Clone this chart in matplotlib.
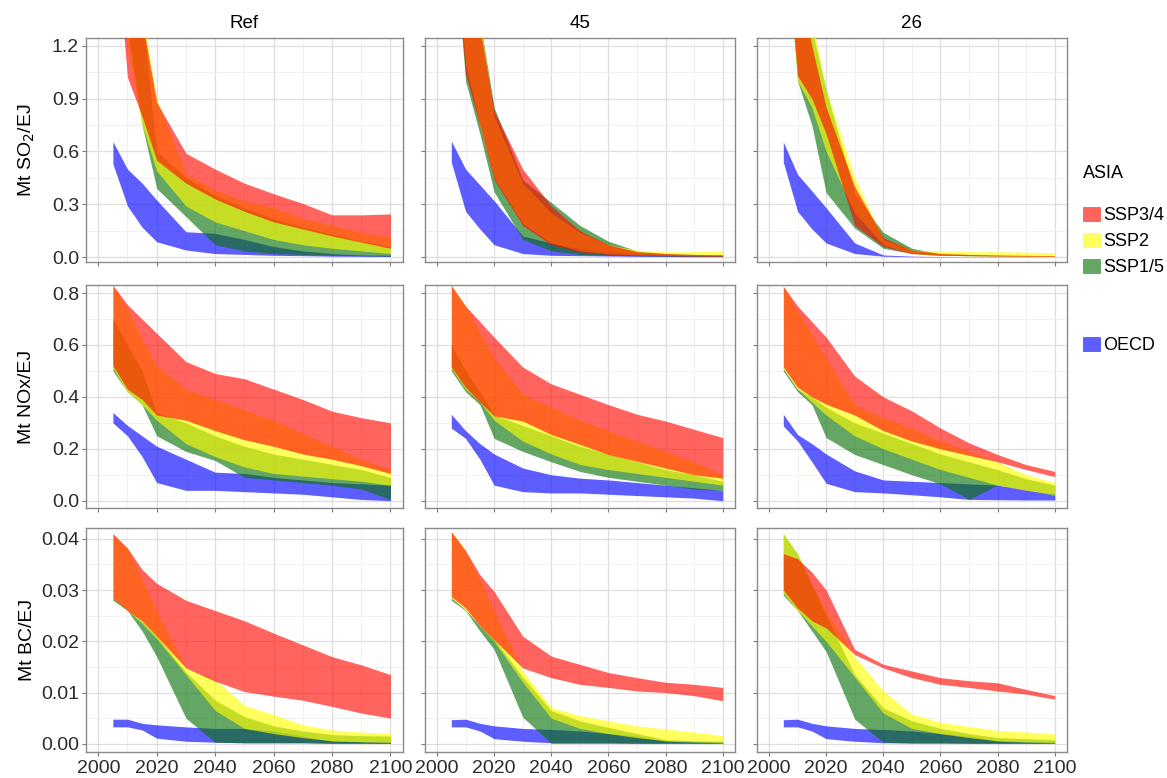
import matplotlib
matplotlib.use("Agg")
import matplotlib.pyplot as plt
from matplotlib.patches import Patch
from matplotlib.ticker import MultipleLocator, FormatStrFormatter

plt.rcParams["font.family"] = ["Liberation Sans", "DejaVu Sans"]

# Emission factor ranges (lower / upper bound of each ribbon)
YEARS = [2005, 2010, 2015, 2020, 2030, 2040, 2050, 2060, 2070, 2080, 2090, 2100]

# --- SO2, Ref ---
so2_ref_ssp34_lo = [2.0, 1.02, 0.80, 0.55, 0.42, 0.33, 0.26, 0.20, 0.16, 0.12, 0.085, 0.05]
so2_ref_ssp34_hi = [3.0, 2.0, 1.35, 0.88, 0.59, 0.50, 0.42, 0.36, 0.305, 0.24, 0.24, 0.245]
so2_ref_ssp2_lo = [2.0, 1.2, 0.75, 0.49, 0.29, 0.20, 0.15, 0.10, 0.07, 0.05, 0.035, 0.02]
so2_ref_ssp2_hi = [3.0, 2.0, 1.4, 0.90, 0.47, 0.38, 0.32, 0.28, 0.22, 0.18, 0.14, 0.115]
so2_ref_ssp15_lo = [2.2, 1.3, 0.75, 0.39, 0.23, 0.07, 0.035, 0.02, 0.015, 0.01, 0.008, 0.005]
so2_ref_ssp15_hi = [3.0, 2.0, 1.4, 0.60, 0.45, 0.35, 0.28, 0.22, 0.17, 0.13, 0.09, 0.06]
so2_ref_oecd_lo = [0.53, 0.29, 0.17, 0.087, 0.04, 0.02, 0.015, 0.01, 0.008, 0.005, 0.004, 0.003]
so2_ref_oecd_hi = [0.656, 0.50, 0.42, 0.324, 0.144, 0.135, 0.10, 0.06, 0.035, 0.02, 0.012, 0.01]

# --- NOx, Ref ---
nox_ref_ssp34_lo = [0.52, 0.43, 0.39, 0.33, 0.31, 0.27, 0.235, 0.21, 0.18, 0.16, 0.135, 0.105]
nox_ref_ssp34_hi = [0.83, 0.755, 0.70, 0.645, 0.536, 0.49, 0.47, 0.43, 0.39, 0.345, 0.32, 0.30]
nox_ref_ssp2_lo = [0.51, 0.42, 0.37, 0.31, 0.22, 0.17, 0.13, 0.105, 0.095, 0.085, 0.075, 0.06]
nox_ref_ssp2_hi = [0.83, 0.74, 0.62, 0.52, 0.43, 0.39, 0.35, 0.31, 0.26, 0.21, 0.16, 0.12]
nox_ref_ssp15_lo = [0.50, 0.42, 0.37, 0.25, 0.19, 0.155, 0.09, 0.08, 0.07, 0.06, 0.045, 0.005]
nox_ref_ssp15_hi = [0.70, 0.60, 0.50, 0.34, 0.30, 0.25, 0.21, 0.18, 0.16, 0.14, 0.12, 0.09]
nox_ref_oecd_lo = [0.30, 0.25, 0.17, 0.07, 0.04, 0.04, 0.035, 0.03, 0.025, 0.015, 0.005, 0.0]
nox_ref_oecd_hi = [0.34, 0.29, 0.25, 0.21, 0.16, 0.11, 0.105, 0.09, 0.08, 0.07, 0.065, 0.06]

# --- BC, Ref ---
bc_ref_ssp34_lo = [0.0285, 0.026, 0.024, 0.021, 0.0148, 0.0122, 0.0102, 0.0093, 0.0085, 0.0073, 0.006, 0.005]
bc_ref_ssp34_hi = [0.041, 0.0382, 0.034, 0.0313, 0.028, 0.026, 0.024, 0.0216, 0.0193, 0.017, 0.0154, 0.0135]
bc_ref_ssp2_lo = [0.0285, 0.026, 0.0235, 0.0205, 0.0135, 0.0065, 0.003, 0.002, 0.0012, 0.0006, 0.0004, 0.0003]
bc_ref_ssp2_hi = [0.041, 0.038, 0.032, 0.026, 0.0148, 0.0125, 0.0075, 0.0057, 0.0037, 0.0027, 0.0023, 0.002]
bc_ref_ssp15_lo = [0.028, 0.026, 0.022, 0.017, 0.005, 0.0003, 0.0002, 0.0002, 0.0002, 0.0001, 0.0001, 0.0001]
bc_ref_ssp15_hi = [0.0285, 0.0262, 0.024, 0.021, 0.014, 0.0085, 0.0053, 0.0035, 0.0025, 0.0018, 0.0016, 0.0015]
bc_ref_oecd_lo = [0.0033, 0.0033, 0.0027, 0.0011, 0.0005, 0.0003, 0.0002, 0.0002, 0.0002, 0.0001, 0.0001, 0.0001]
bc_ref_oecd_hi = [0.0048, 0.0048, 0.004, 0.0037, 0.0033, 0.003, 0.003, 0.0025, 0.0015, 0.0005, 0.0004, 0.0003]

# --- SO2, 45 ---
so2_45_ssp34_lo = [2.0, 1.04, 0.75, 0.44, 0.18, 0.07, 0.03, 0.015, 0.01, 0.008, 0.006, 0.005]
so2_45_ssp34_hi = [3.0, 2.0, 1.3, 0.83, 0.50, 0.29, 0.15, 0.07, 0.03, 0.02, 0.015, 0.012]
so2_45_ssp2_lo = [2.0, 1.1, 0.75, 0.45, 0.19, 0.08, 0.035, 0.018, 0.012, 0.01, 0.01, 0.012]
so2_45_ssp2_hi = [3.0, 2.0, 1.35, 0.80, 0.42, 0.25, 0.14, 0.07, 0.04, 0.03, 0.03, 0.035]
so2_45_ssp15_lo = [2.0, 1.0, 0.70, 0.37, 0.10, 0.035, 0.015, 0.01, 0.008, 0.006, 0.005, 0.004]
so2_45_ssp15_hi = [3.0, 2.0, 1.35, 0.85, 0.44, 0.31, 0.18, 0.09, 0.035, 0.02, 0.015, 0.012]
so2_45_oecd_lo = [0.54, 0.26, 0.16, 0.07, 0.02, 0.01, 0.008, 0.006, 0.004, 0.003, 0.002, 0.002]
so2_45_oecd_hi = [0.66, 0.50, 0.41, 0.32, 0.12, 0.08, 0.05, 0.03, 0.02, 0.012, 0.008, 0.006]

# --- NOx, 45 ---
nox_45_ssp34_lo = [0.515, 0.437, 0.38, 0.327, 0.307, 0.255, 0.217, 0.178, 0.152, 0.126, 0.10, 0.087]
nox_45_ssp34_hi = [0.83, 0.75, 0.69, 0.63, 0.515, 0.45, 0.41, 0.37, 0.333, 0.307, 0.275, 0.243]
nox_45_ssp2_lo = [0.51, 0.43, 0.38, 0.31, 0.23, 0.18, 0.14, 0.12, 0.105, 0.09, 0.075, 0.06]
nox_45_ssp2_hi = [0.83, 0.75, 0.65, 0.55, 0.41, 0.36, 0.31, 0.27, 0.23, 0.19, 0.15, 0.10]
nox_45_ssp15_lo = [0.50, 0.42, 0.37, 0.24, 0.19, 0.15, 0.113, 0.09, 0.075, 0.06, 0.045, 0.04]
nox_45_ssp15_hi = [0.60, 0.50, 0.42, 0.33, 0.29, 0.25, 0.21, 0.18, 0.15, 0.12, 0.10, 0.075]
nox_45_oecd_lo = [0.28, 0.24, 0.16, 0.06, 0.035, 0.03, 0.03, 0.025, 0.02, 0.015, 0.01, 0.0]
nox_45_oecd_hi = [0.333, 0.27, 0.22, 0.18, 0.126, 0.10, 0.087, 0.08, 0.07, 0.06, 0.05, 0.04]

# --- BC, 45 ---
bc_45_ssp34_lo = [0.0287, 0.0265, 0.023, 0.0203, 0.0148, 0.0129, 0.0116, 0.011, 0.0103, 0.010, 0.0094, 0.0084]
bc_45_ssp34_hi = [0.0414, 0.0377, 0.033, 0.0297, 0.021, 0.0171, 0.0155, 0.0139, 0.0129, 0.012, 0.0116, 0.011]
bc_45_ssp2_lo = [0.0285, 0.0262, 0.023, 0.020, 0.012, 0.005, 0.003, 0.002, 0.0012, 0.0006, 0.0004, 0.0003]
bc_45_ssp2_hi = [0.0414, 0.0377, 0.032, 0.026, 0.0142, 0.0071, 0.0055, 0.0045, 0.0035, 0.0029, 0.0023, 0.0016]
bc_45_ssp15_lo = [0.028, 0.026, 0.022, 0.0184, 0.0052, 0.0001, 0.0001, 0.0001, 0.0001, 0.0001, 0.0001, 0.0001]
bc_45_ssp15_hi = [0.0285, 0.0262, 0.023, 0.0205, 0.013, 0.0065, 0.0045, 0.0032, 0.002, 0.0008, 0.0006, 0.0005]
bc_45_oecd_lo = [0.0033, 0.0033, 0.0025, 0.001, 0.0005, 0.0002, 0.0002, 0.0002, 0.0001, 0.0001, 0.0001, 0.0001]
bc_45_oecd_hi = [0.0047, 0.0048, 0.004, 0.0035, 0.003, 0.0028, 0.0025, 0.002, 0.0015, 0.0005, 0.0003, 0.0002]

# --- SO2, 26 ---
so2_26_ssp34_lo = [2.0, 1.03, 0.9, 0.70, 0.18, 0.06, 0.02, 0.01, 0.008, 0.006, 0.005, 0.004]
so2_26_ssp34_hi = [3.0, 1.6, 1.2, 0.85, 0.40, 0.11, 0.04, 0.02, 0.015, 0.012, 0.01, 0.008]
so2_26_ssp2_lo = [2.0, 1.0, 0.85, 0.60, 0.25, 0.07, 0.02, 0.01, 0.008, 0.006, 0.005, 0.004]
so2_26_ssp2_hi = [3.0, 2.0, 1.35, 0.95, 0.45, 0.10, 0.04, 0.035, 0.03, 0.03, 0.028, 0.025]
so2_26_ssp15_lo = [2.0, 1.0, 0.75, 0.366, 0.165, 0.05, 0.02, 0.01, 0.008, 0.006, 0.005, 0.004]
so2_26_ssp15_hi = [3.0, 1.8, 1.3, 0.95, 0.36, 0.14, 0.05, 0.02, 0.015, 0.01, 0.008, 0.006]
so2_26_oecd_lo = [0.54, 0.26, 0.16, 0.08, 0.02, 0.005, 0.002, 0.001, 0.001, 0.001, 0.001, 0.001]
so2_26_oecd_hi = [0.654, 0.47, 0.376, 0.28, 0.08, 0.012, 0.005, 0.003, 0.002, 0.002, 0.002, 0.001]

# --- NOx, 26 ---
nox_26_ssp34_lo = [0.515, 0.437, 0.40, 0.372, 0.33, 0.27, 0.23, 0.20, 0.175, 0.15, 0.12, 0.093]
nox_26_ssp34_hi = [0.826, 0.75, 0.69, 0.63, 0.48, 0.40, 0.346, 0.28, 0.223, 0.178, 0.139, 0.113]
nox_26_ssp2_lo = [0.51, 0.43, 0.38, 0.33, 0.25, 0.20, 0.16, 0.12, 0.09, 0.06, 0.04, 0.025]
nox_26_ssp2_hi = [0.826, 0.73, 0.64, 0.55, 0.37, 0.32, 0.28, 0.23, 0.19, 0.15, 0.10, 0.07]
nox_26_ssp15_lo = [0.50, 0.42, 0.37, 0.243, 0.178, 0.139, 0.10, 0.065, 0.005, 0.06, 0.045, 0.02]
nox_26_ssp15_hi = [0.51, 0.43, 0.40, 0.36, 0.30, 0.26, 0.22, 0.18, 0.15, 0.12, 0.085, 0.06]
nox_26_oecd_lo = [0.288, 0.23, 0.15, 0.067, 0.035, 0.03, 0.023, 0.015, 0.005, 0.004, 0.003, 0.003]
nox_26_oecd_hi = [0.333, 0.255, 0.22, 0.18, 0.115, 0.08, 0.075, 0.07, 0.065, 0.06, 0.045, 0.02]

# --- BC, 26 ---
bc_26_ssp34_lo = [0.030, 0.0265, 0.024, 0.0226, 0.0174, 0.0148, 0.0129, 0.0116, 0.011, 0.0103, 0.0097, 0.0087]
bc_26_ssp34_hi = [0.0371, 0.0361, 0.0335, 0.030, 0.0184, 0.0155, 0.0142, 0.0129, 0.0123, 0.0119, 0.0106, 0.0094]
bc_26_ssp2_lo = [0.0294, 0.026, 0.023, 0.020, 0.013, 0.006, 0.003, 0.002, 0.0012, 0.0006, 0.0004, 0.0003]
bc_26_ssp2_hi = [0.041, 0.037, 0.031, 0.026, 0.017, 0.0103, 0.0058, 0.0042, 0.0034, 0.0026, 0.0023, 0.0019]
bc_26_ssp15_lo = [0.029, 0.026, 0.022, 0.018, 0.0048, 0.0003, 0.0001, 0.0001, 0.0001, 0.0001, 0.0001, 0.0001]
bc_26_ssp15_hi = [0.041, 0.037, 0.031, 0.025, 0.0135, 0.007, 0.0045, 0.003, 0.002, 0.0012, 0.001, 0.0008]
bc_26_oecd_lo = [0.0033, 0.0033, 0.0025, 0.001, 0.0005, 0.0002, 0.0002, 0.0002, 0.0001, 0.0001, 0.0001, 0.0001]
bc_26_oecd_hi = [0.0047, 0.0048, 0.004, 0.0035, 0.003, 0.0028, 0.0025, 0.002, 0.0015, 0.0005, 0.0003, 0.0002]

SCENARIOS = ["Ref", "45", "26"]
ROW_LABELS = ["Mt SO$_2$/EJ", "Mt NOx/EJ", "Mt BC/EJ"]
ASIA_LABELS = ["SSP3/4", "SSP2", "SSP1/5"]

# Style
COLORS = {"oecd": "#0000ff", "ssp15": "#0a730a", "ssp2": "#ffff00", "ssp34": "#ff0a00"}
ALPHA = 0.63
DRAW_ORDER = ["oecd", "ssp15", "ssp2", "ssp34"]

W, H = 1167, 778
COL_LEFT = [86, 425, 757]
COL_WIDTH = [317, 310, 310]
ROW_TOP = [38, 285, 528]
ROW_BOTTOM = [262, 508, 752]
XLIM = (1995.8, 2104.3)
YLIMS = [(-0.028, 1.245), (-0.028, 0.831), (-0.0016, 0.0421)]
Y_MAJOR = [0.3, 0.2, 0.01]
Y_FMT = ["%.1f", "%.1f", "%.2f"]

# collect the ribbons per panel (row = pollutant, col = scenario)
panels = {}
for r, pol in enumerate(["so2", "nox", "bc"]):
    for c, scen in enumerate(["ref", "45", "26"]):
        panels[(r, c)] = {
            key: (globals()[f"{pol}_{scen}_{key}_lo"], globals()[f"{pol}_{scen}_{key}_hi"])
            for key in DRAW_ORDER
        }

fig = plt.figure(figsize=(W / 100, H / 100), dpi=100)

for r in range(3):
    for c in range(3):
        left = COL_LEFT[c] / W
        bottom = 1 - ROW_BOTTOM[r] / H
        ax = fig.add_axes([left, bottom, COL_WIDTH[c] / W, (ROW_BOTTOM[r] - ROW_TOP[r]) / H])
        ax.set_facecolor("white")

        for key in DRAW_ORDER:
            lo, hi = panels[(r, c)][key]
            ax.fill_between(YEARS, lo, hi, color=COLORS[key], alpha=ALPHA, linewidth=0, zorder=3)

        ax.set_xlim(*XLIM)
        ax.set_ylim(*YLIMS[r])
        ax.xaxis.set_major_locator(MultipleLocator(20))
        ax.xaxis.set_minor_locator(MultipleLocator(10))
        ax.yaxis.set_major_locator(MultipleLocator(Y_MAJOR[r]))
        ax.yaxis.set_minor_locator(MultipleLocator(Y_MAJOR[r] / 2))
        ax.yaxis.set_major_formatter(FormatStrFormatter(Y_FMT[r]))

        ax.grid(which="major", color="#dedede", linewidth=0.9, zorder=0)
        ax.grid(which="minor", color="#efefef", linewidth=0.6, zorder=0)
        ax.set_axisbelow(True)
        for sp in ax.spines.values():
            sp.set_color("#8a8a8a")
            sp.set_linewidth(1.0)

        ax.tick_params(which="major", length=3, width=0.8, color="#7a7a7a",
                       labelsize=14, labelcolor="#2b2b2b")
        ax.tick_params(axis="x", pad=3)
        ax.tick_params(axis="y", pad=2)
        ax.tick_params(which="minor", length=0)
        if c > 0:
            ax.tick_params(labelleft=False)
        if r < 2:
            ax.tick_params(labelbottom=False)

        if r == 0:
            cx = (COL_LEFT[c] + COL_WIDTH[c] / 2) / W
            fig.text(cx, 1 - 24 / H, SCENARIOS[c], ha="center", va="center", fontsize=13.5)

    cy = 1 - (ROW_TOP[r] + ROW_BOTTOM[r]) / 2 / H
    fig.text(27 / W, cy, ROW_LABELS[r], rotation=90, ha="center", va="center", fontsize=14)

# legends: ASIA title set on its own so the gap to the first key matches
fig.text(1083 / W, 1 - 174 / H, "ASIA", ha="left", va="center", fontsize=13)
asia_handles = [Patch(facecolor=COLORS[k], alpha=ALPHA, edgecolor=COLORS[k], linewidth=0.5)
                for k in ["ssp34", "ssp2", "ssp15"]]
leg1 = fig.legend(asia_handles, ASIA_LABELS, loc="upper left",
                  bbox_to_anchor=(1076 / W, 1 - 200 / H), frameon=False, fontsize=13,
                  handlelength=0.95, handleheight=0.8,
                  handletextpad=0.15, labelspacing=0.48, borderaxespad=0)
oecd_handle = [Patch(facecolor=COLORS["oecd"], alpha=ALPHA, edgecolor=COLORS["oecd"], linewidth=0.5)]
leg2 = fig.legend(oecd_handle, ["OECD"], loc="upper left",
                  bbox_to_anchor=(1076 / W, 1 - 330 / H), frameon=False, fontsize=13,
                  handlelength=0.95, handleheight=0.8, handletextpad=0.15, borderaxespad=0)

fig.savefig("out.png", dpi=100)
